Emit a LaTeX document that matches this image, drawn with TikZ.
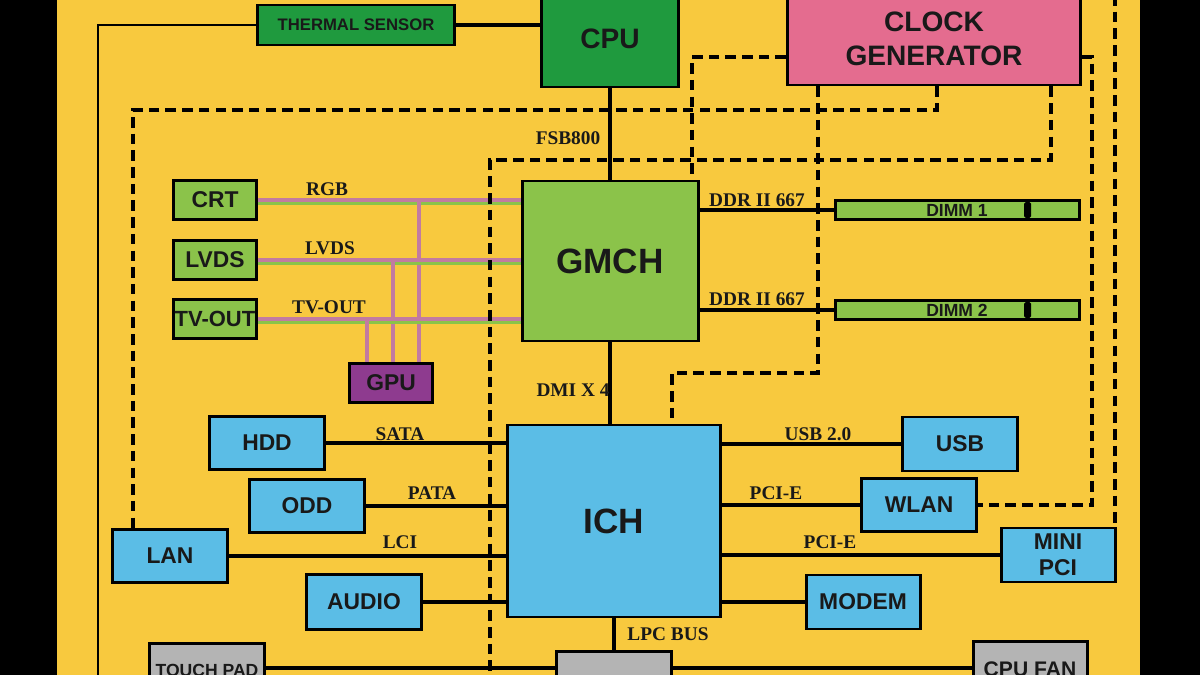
\documentclass[tikz,border=0pt]{standalone}
\usepackage{fontspec}
\setmainfont{Liberation Sans}
\newfontfamily\labelfont{Liberation Serif}
\usetikzlibrary{calc}

\definecolor{boardyellow}{HTML}{F8C93E}
\definecolor{cpugreen}{HTML}{1F9A3E}
\definecolor{ltgreen}{HTML}{8BC34A}
\definecolor{clkpink}{HTML}{E46C8F}
\definecolor{gpupurple}{HTML}{8E3B8F}
\definecolor{ichblue}{HTML}{5BBDE6}
\definecolor{padgrey}{HTML}{B4B4B4}
\definecolor{vidpink}{HTML}{C27BA0}

\tikzset{
  box/.style={draw=black,line width=1.7pt,fill=#1,font=\bfseries\fontsize{13}{14}\selectfont,
    text=black!90,align=center,inner sep=0pt},
  wh/.style 2 args={minimum width=#1*0.02cm,minimum height=#2*0.02cm},
  bus/.style={line width=2.2pt},
  clk/.style={line width=2.3pt,dash pattern=on 6pt off 3.5pt},
  lbl/.style={font=\labelfont\bfseries\fontsize{11}{12}\selectfont,text=black!90,inner sep=1pt},
  vid/.style={line width=2pt,draw=vidpink},
  vidg/.style={line width=2pt,draw=ltgreen},
  toptext/.style={label={[anchor=north,yshift=-9pt,font=\bfseries\fontsize{#1}{12}\selectfont,text=black!90]north:\toplabel}}
}
\newcommand{\toplabel}{}

\begin{document}
\begin{tikzpicture}[x=0.02cm,y=-0.02cm]
			% board background
			\useasboundingbox (0,0) rectangle (1200,675);
			\fill[black] (0,0) rectangle (1200,675);
			\fill[boardyellow] (57,0) rectangle (1140,675);
			
			% blocks
			\node[box=cpugreen,wh={197}{40},font=\bfseries\fontsize{9.5}{10}\selectfont] (Thermal) at (356,25) {THERMAL SENSOR};
			\node[box=cpugreen,wh={137}{96},font=\bfseries\fontsize{16}{17}\selectfont] (CPU) at (610,39) {CPU};
			\node[box=clkpink,wh={293}{92},font=\bfseries\fontsize{16}{19}\selectfont] (ClockGen) at (934,39) {CLOCK\\GENERATOR};
			\node[box=ltgreen,wh={176}{160},font=\bfseries\fontsize{20}{22}\selectfont] (GMCH) at (610,261) {GMCH};
			\node[box=ltgreen,wh={83}{39}] (CRT) at (215,200) {CRT};
			\node[box=ltgreen,wh={83}{39}] (LVDS) at (215,260) {LVDS};
			\node[box=ltgreen,wh={83}{39},font=\bfseries\fontsize{12.5}{14}\selectfont] (TVOut) at (215,319) {TV-OUT};
			\node[box=gpupurple,wh={83}{39}] (GPU) at (391,383) {GPU};
			\node[box=ltgreen,wh={244}{19},font=\bfseries\fontsize{10}{11}\selectfont] (DimmA) at (957,210) {DIMM 1};
			\node[box=ltgreen,wh={244}{19},font=\bfseries\fontsize{10}{11}\selectfont] (DimmB) at (957,310) {DIMM 2};
			\fill[black,rounded corners=1pt] (1024,202) rectangle (1031,218);
			\fill[black,rounded corners=1pt] (1024,302) rectangle (1031,318);
			\node[box=ichblue,wh={213}{192},font=\bfseries\fontsize{20}{22}\selectfont] (ICH) at (614,521) {ICH};
			\node[box=ichblue,wh={115}{53}] (HDD) at (267,443) {HDD};
			\node[box=ichblue,wh={115}{53}] (ODD) at (307,506) {ODD};
			\node[box=ichblue,wh={115}{53}] (LAN) at (170,556) {LAN};
			\node[box=ichblue,wh={115}{55}] (Audio) at (364,602) {AUDIO};
			\node[box=ichblue,wh={115}{54}] (USB) at (960,444) {USB};
			\node[box=ichblue,wh={115}{53}] (WLAN) at (919,505) {WLAN};
			\node[box=ichblue,wh={114}{54},font=\bfseries\fontsize{13}{15}\selectfont] (MiniPCI) at (1058,555) {MINI\\PCI};
			\node[box=ichblue,wh={114}{54}] (Modem) at (863,602) {MODEM};
			\renewcommand{\toplabel}{TOUCH PAD}
			\node[box=padgrey,wh={115}{60},anchor=north,toptext=10] (TouchPad) at (207,642) {};
			\node[box=padgrey,wh={115}{60},anchor=north] (KBC) at (614,650) {};
			\renewcommand{\toplabel}{CPU FAN}
			\node[box=padgrey,wh={114}{60},anchor=north,toptext=12] (CPUFan) at (1030,640) {};
			
			% solid buses
			\draw[bus] (Thermal.east) -- (CPU.west |- Thermal);
			\draw[line width=1.3pt] (Thermal.west) -- (98,25) -- (98,680);
			\draw[bus] (CPU.south) -- (GMCH.north -| CPU.south);
			\draw[bus] (GMCH.south) -- (ICH.north -| GMCH.south);
			\draw[bus] (ICH) -- (KBC);
			\draw[bus] (GMCH.east |- DimmA) -- (DimmA);
			\draw[bus] (GMCH.east |- DimmB) -- (DimmB);
			\draw[bus] (HDD) -- (HDD -| ICH.west);
			\draw[bus] (ODD) -- (ODD -| ICH.west);
			\draw[bus] (LAN) -- (LAN -| ICH.west);
			\draw[bus] (Audio) -- (Audio -| ICH.west);
			\draw[bus] (USB) -- (USB -| ICH.east);
			\draw[bus] (WLAN) -- (WLAN -| ICH.east);
			\draw[bus] (MiniPCI) -- (MiniPCI -| ICH.east);
			\draw[bus] (Modem) -- (Modem -| ICH.east);
			\draw[bus] (TouchPad.east |- 0,668) -- (KBC.west |- 0,668);
			\draw[bus] (KBC.east |- 0,668) -- (CPUFan.west |- 0,668);
			
			% video lines
			\foreach \src/\y/\x in {CRT/200/419,LVDS/260/393,TVOut/319/367}{
			  \draw[vidg] (\src.east |- 0,\y+3.5) -- (GMCH.west |- 0,\y+3.5);
			  \draw[vid] (\src.east |- 0,\y) -- (GMCH.west |- 0,\y);
			  \draw[vid] (GPU.north -| \x,0) -- (\x,\y);
			}
			
			% clock lines
			\draw[clk] (ClockGen.west |- 0,57) -- (692,57) -- (GMCH.north -| 692,0);
			\draw[clk] (ClockGen.south -| 937,0) -- (937,110) -- (133,110) -- (LAN.north -| 133,0);
			\draw[clk] (ClockGen.south -| 818,0) -- (818,373) -- (672,373) -- (ICH.north -| 672,0);
			\draw[clk] (ClockGen.south -| 1051,0) -- (1051,160) -- (490,160) -- (490,680);
			\draw[clk] (ClockGen.east |- 0,57) -- (1092,57) -- (1092,505) -- (WLAN.east);
			\draw[clk] (1115,-5) -- (MiniPCI.north -| 1115,0);
			
			% bus labels
			\node[lbl] at (568,138) {FSB800};
			\node[lbl] at (573,390) {DMI X 4};
			\node[lbl] at (327,189) {RGB};
			\node[lbl] at (330,248) {LVDS};
			\node[lbl] at (329,307) {TV-OUT};
			\node[lbl] at (757,200) {DDR II 667};
			\node[lbl] at (757,299) {DDR II 667};
			\node[lbl] at (400,434) {SATA};
			\node[lbl] at (432,493) {PATA};
			\node[lbl] at (400,542) {LCI};
			\node[lbl] at (818,434) {USB 2.0};
			\node[lbl] at (776,493) {PCI-E};
			\node[lbl] at (830,542) {PCI-E};
			\node[lbl] at (668,634) {LPC BUS};
			
			\end{tikzpicture}
\end{document}
